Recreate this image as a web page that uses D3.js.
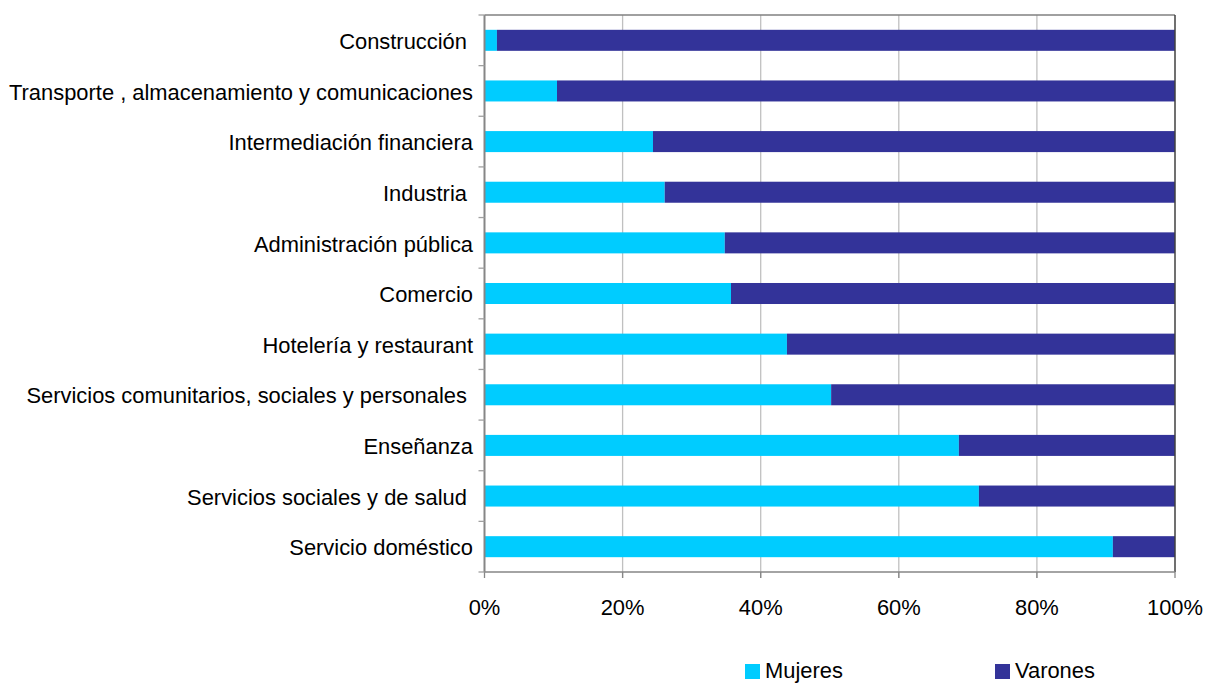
<!DOCTYPE html>
<html>
<head>
<meta charset="utf-8">
<script src="https://cdn.jsdelivr.net/npm/d3@7"></script>
<style>
  body { margin: 0; background: #fff; }
  text { font-family: "Liberation Sans", Arial, sans-serif; fill: #000; white-space: pre; }
</style>
</head>
<body>
<svg id="chart" width="1210" height="683"></svg>
<script>
const categories = [
    "Construcción ",
    "Transporte , almacenamiento y comunicaciones",
    "Intermediación financiera",
    "Industria ",
    "Administración pública",
    "Comercio",
    "Hotelería y restaurant",
    "Servicios comunitarios, sociales y personales ",
    "Enseñanza",
    "Servicios sociales y de salud ",
    "Servicio doméstico"
];
const mujeres = [1.8, 10.5, 24.4, 26.1, 34.8, 35.7, 43.8, 50.2, 68.7, 71.6, 91.0];
const varones = mujeres.map(v => 100 - v);
const seriesNames = ["Mujeres", "Varones"];
const seriesColors = ["#00ccff", "#333399"];
const xTicks = [0, 20, 40, 60, 80, 100];

const svg = d3.select("#chart"),
    plotLeft = 484.5,
    plotRight = 1175,
    plotTop = 15,
    plotBottom = 572,
    fontSize = "21.9px";

const x = d3.scaleLinear().domain([0, 100]).range([plotLeft, plotRight]);
const y = d3.scaleBand().domain(categories).range([plotTop, plotBottom]).paddingInner(0.585).paddingOuter(0.2925);

// gridlines
svg.selectAll(".grid")
    .data(xTicks.slice(1, -1))
    .enter().append("line")
    .attr("x1", d => x(d)).attr("x2", d => x(d))
    .attr("y1", plotTop).attr("y2", plotBottom + 6)
    .attr("stroke", "#c0c0c0")
    .attr("stroke-width", 1.3);

// stacked bars
const rows = categories.map((c, i) => ({ cat: c, vals: [mujeres[i], varones[i]] }));
rows.forEach(r => {
    let acc = 0;
    r.vals.forEach((v, j) => {
        svg.append("rect")
            .attr("x", x(acc))
            .attr("y", y(r.cat))
            .attr("width", x(acc + v) - x(acc))
            .attr("height", y.bandwidth())
            .attr("fill", seriesColors[j]);
        acc += v;
    });
});

// plot frame
svg.append("line").attr("x1", plotLeft).attr("x2", plotRight).attr("y1", plotTop).attr("y2", plotTop)
    .attr("stroke", "#808080").attr("stroke-width", 1.5);
svg.append("line").attr("x1", plotRight).attr("x2", plotRight).attr("y1", plotTop).attr("y2", plotBottom)
    .attr("stroke", "#404040").attr("stroke-width", 1.5);

// bottom axis
svg.append("line").attr("x1", plotLeft).attr("x2", plotRight).attr("y1", plotBottom).attr("y2", plotBottom)
    .attr("stroke", "#868686").attr("stroke-width", 1.5);
svg.selectAll(".xtick")
    .data(xTicks)
    .enter().append("line")
    .attr("x1", d => x(d)).attr("x2", d => x(d))
    .attr("y1", plotBottom).attr("y2", plotBottom + 6)
    .attr("stroke", "#868686").attr("stroke-width", 1.3);
svg.selectAll(".xlabel")
    .data(xTicks)
    .enter().append("text")
    .attr("x", d => x(d))
    .attr("y", 615)
    .attr("text-anchor", "middle")
    .style("font-size", fontSize)
    .text(d => d + "%");

// left axis
svg.append("line").attr("x1", plotLeft).attr("x2", plotLeft).attr("y1", plotTop).attr("y2", plotBottom)
    .attr("stroke", "#868686").attr("stroke-width", 2);
const bounds = d3.range(categories.length + 1).map(i => plotTop + i * (plotBottom - plotTop) / categories.length);
svg.selectAll(".ytick")
    .data(bounds)
    .enter().append("line")
    .attr("x1", plotLeft - 6).attr("x2", plotLeft)
    .attr("y1", d => d).attr("y2", d => d)
    .attr("stroke", "#a0a0a0").attr("stroke-width", 1.3);
svg.selectAll(".ylabel")
    .data(categories)
    .enter().append("text")
    .attr("x", 473)
    .attr("y", d => y(d) + y.bandwidth() / 2 + 1)
    .attr("dy", "0.35em")
    .attr("text-anchor", "end")
    .style("font-size", fontSize)
    .text(d => d);

// legend
const legendX = [745, 995];
seriesNames.forEach((name, i) => {
    svg.append("rect")
        .attr("x", legendX[i]).attr("y", 664)
        .attr("width", 15).attr("height", 15)
        .attr("fill", seriesColors[i]);
    svg.append("text")
        .attr("x", legendX[i] + 20)
        .attr("y", 678)
        .style("font-size", fontSize)
        .text(name);
});
</script>
</body>
</html>
